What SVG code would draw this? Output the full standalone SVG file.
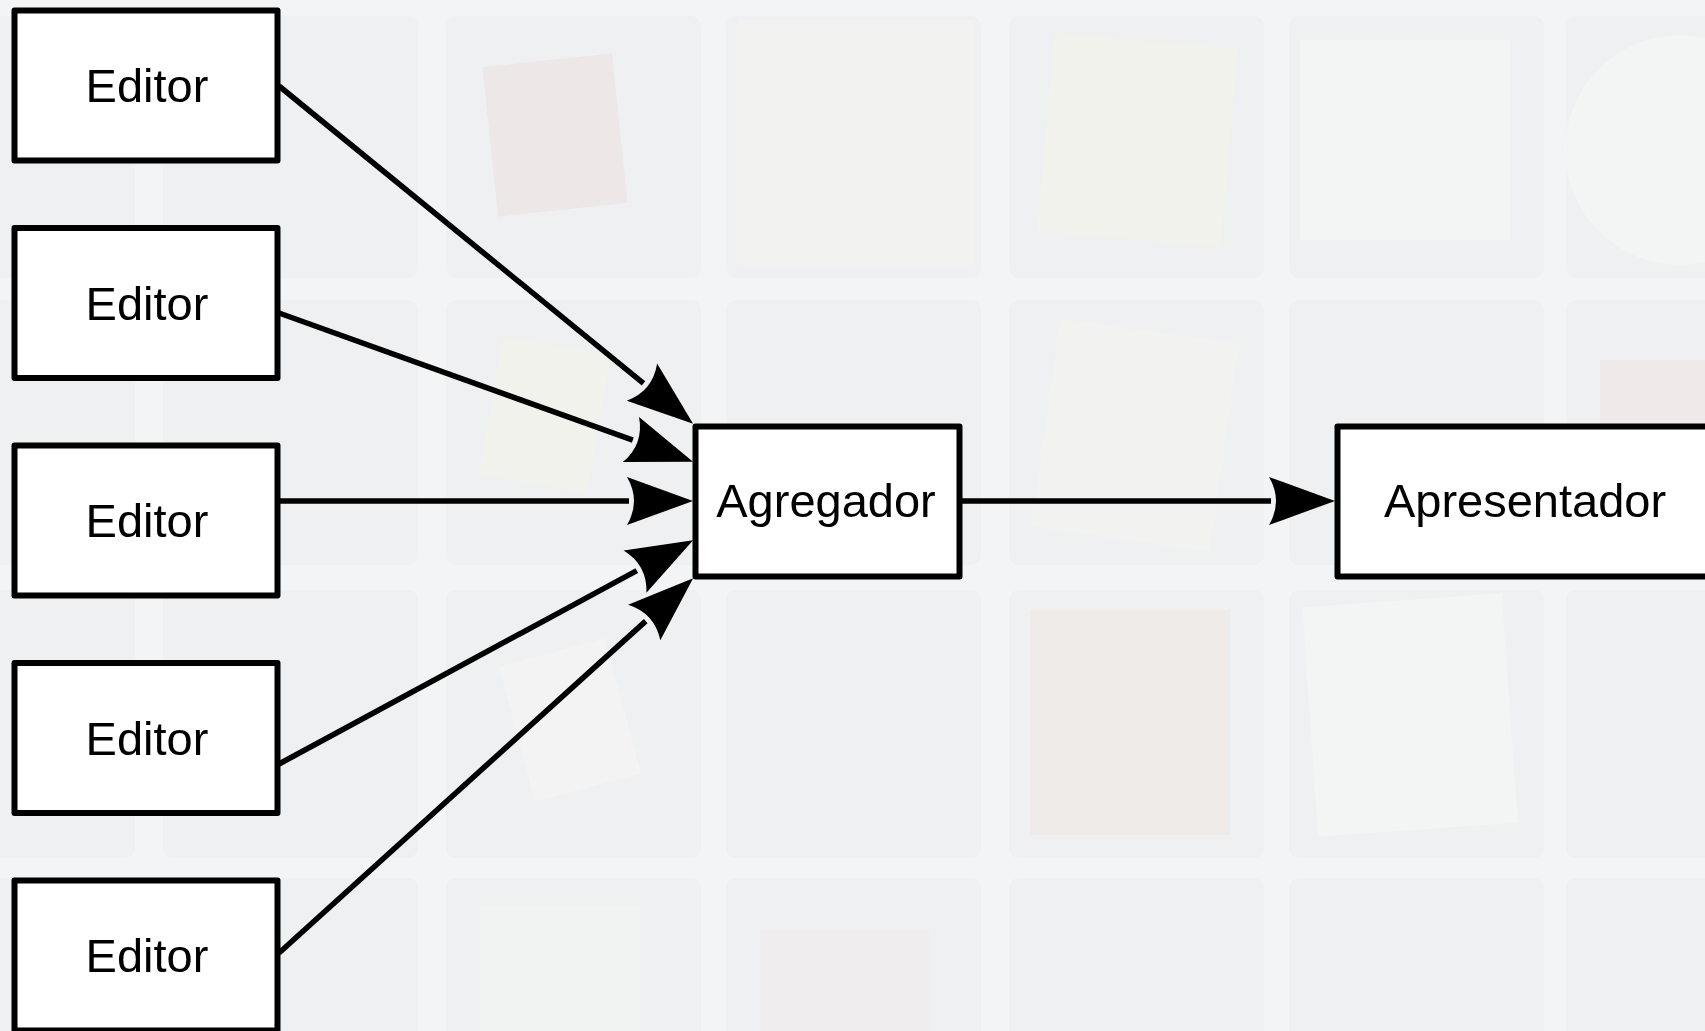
<svg xmlns="http://www.w3.org/2000/svg" width="1705" height="1031" viewBox="0 0 1705 1031">
  <defs>
    <style>
      .node rect { fill: #ffffff; stroke: #000000; stroke-width: 6; stroke-linejoin: round; }
      .node text { font-family: "Liberation Sans", Arial, sans-serif; font-size: 47px; fill: #000000; text-anchor: middle; }
      .edge { fill: none; stroke: #000000; stroke-width: 5.5; }
      .tile { fill: #eef0f1; }
    </style>
    <!-- concave-backed arrowhead; origin is where the line stops, tip 64px ahead -->
    <marker id="arrow" markerUnits="userSpaceOnUse" viewBox="-10 -30 80 60" markerWidth="80" markerHeight="60" refX="0" refY="0" orient="auto" overflow="visible">
      <path d="M64,0 L-2,-24 Q12,0 -2,24 Z" fill="#000000"/>
    </marker>
  </defs>

  <!-- faded backdrop -->
  <rect x="0" y="0" width="1705" height="1031" fill="#f3f4f5"/>
  <g id="backdrop">
    <rect class="tile" x="-120" y="16" width="255" height="262" rx="10"/>
    <rect class="tile" x="163" y="16" width="255" height="262" rx="10"/>
    <rect class="tile" x="446" y="16" width="255" height="262" rx="10"/>
    <rect class="tile" x="726" y="16" width="255" height="262" rx="10"/>
    <rect class="tile" x="1009" y="16" width="255" height="262" rx="10"/>
    <rect class="tile" x="1289" y="16" width="255" height="262" rx="10"/>
    <rect class="tile" x="1566" y="16" width="255" height="262" rx="10"/>

    <rect class="tile" x="-120" y="300" width="255" height="265" rx="10"/>
    <rect class="tile" x="163" y="300" width="255" height="265" rx="10"/>
    <rect class="tile" x="446" y="300" width="255" height="265" rx="10"/>
    <rect class="tile" x="726" y="300" width="255" height="265" rx="10"/>
    <rect class="tile" x="1009" y="300" width="255" height="265" rx="10"/>
    <rect class="tile" x="1289" y="300" width="255" height="265" rx="10"/>
    <rect class="tile" x="1566" y="300" width="255" height="265" rx="10"/>

    <rect class="tile" x="-120" y="590" width="255" height="268" rx="10"/>
    <rect class="tile" x="163" y="590" width="255" height="268" rx="10"/>
    <rect class="tile" x="446" y="590" width="255" height="268" rx="10"/>
    <rect class="tile" x="726" y="590" width="255" height="268" rx="10"/>
    <rect class="tile" x="1009" y="590" width="255" height="268" rx="10"/>
    <rect class="tile" x="1289" y="590" width="255" height="268" rx="10"/>
    <rect class="tile" x="1566" y="590" width="255" height="268" rx="10"/>

    <rect class="tile" x="-120" y="878" width="255" height="170" rx="10"/>
    <rect class="tile" x="163" y="878" width="255" height="170" rx="10"/>
    <rect class="tile" x="446" y="878" width="255" height="170" rx="10"/>
    <rect class="tile" x="726" y="878" width="255" height="170" rx="10"/>
    <rect class="tile" x="1009" y="878" width="255" height="170" rx="10"/>
    <rect class="tile" x="1289" y="878" width="255" height="170" rx="10"/>
    <rect class="tile" x="1566" y="878" width="255" height="170" rx="10"/>

    <!-- pale objects inside the tiles -->
    <g opacity="0.4">
      <rect x="490" y="60" width="130" height="150" fill="#ead9d9" transform="rotate(-6 555 135)"/>
      <rect x="738" y="20" width="235" height="245" fill="#f7f6f0"/>
      <rect x="1045" y="40" width="185" height="200" fill="#f6f4e4" transform="rotate(5 1137 140)"/>
      <rect x="1300" y="40" width="210" height="200" fill="#fafafa"/>
      <circle cx="1680" cy="150" r="115" fill="#fafafa"/>
      <rect x="490" y="345" width="110" height="140" fill="#f8f6e6" transform="rotate(10 545 415)"/>
      <rect x="1045" y="330" width="180" height="210" fill="#f8f7f2" transform="rotate(8 1135 435)"/>
      <rect x="1600" y="360" width="110" height="160" fill="#efe2df"/>
      <rect x="515" y="650" width="110" height="140" fill="#f8f8f6" transform="rotate(-15 570 720)"/>
      <rect x="1030" y="610" width="200" height="225" fill="#f1e3dc"/>
      <rect x="1310" y="600" width="200" height="230" fill="#fbfbfa" transform="rotate(-4 1410 715)"/>
      <rect x="760" y="930" width="170" height="101" fill="#f0e8e8"/>
      <rect x="480" y="905" width="160" height="126" fill="#f5f5f5"/>
    </g>
  </g>

  <!-- connectors -->
  <g id="connectors">
    <line id="e1" class="edge" x1="279" y1="86" x2="643.5" y2="383.4" marker-end="url(#arrow)"/>
    <line id="e2" class="edge" x1="279" y1="313" x2="632.8" y2="440.2" marker-end="url(#arrow)"/>
    <line id="e3" class="edge" x1="279" y1="501" x2="629" y2="501" marker-end="url(#arrow)"/>
    <line id="e4" class="edge" x1="279" y1="764" x2="636.8" y2="570.6" marker-end="url(#arrow)"/>
    <line id="e5" class="edge" x1="279" y1="953" x2="645.7" y2="621.1" marker-end="url(#arrow)"/>
    <line id="e6" class="edge" x1="961" y1="501" x2="1271" y2="501" marker-end="url(#arrow)"/>
  </g>

  <!-- nodes -->
  <g id="editor1" class="node">
    <rect x="14.5" y="10.5" width="263" height="150"/>
    <text x="147" y="102">Editor</text>
  </g>
  <g id="editor2" class="node">
    <rect x="14.5" y="228" width="263" height="150"/>
    <text x="147" y="319.5">Editor</text>
  </g>
  <g id="editor3" class="node">
    <rect x="14.5" y="445.5" width="263" height="150"/>
    <text x="147" y="537">Editor</text>
  </g>
  <g id="editor4" class="node">
    <rect x="14.5" y="663" width="263" height="150"/>
    <text x="147" y="754.5">Editor</text>
  </g>
  <g id="editor5" class="node">
    <rect x="14.5" y="880.5" width="263" height="150"/>
    <text x="147" y="972">Editor</text>
  </g>
  <g id="agregador" class="node">
    <rect x="695.5" y="426.5" width="264" height="150"/>
    <text x="826" y="517">Agregador</text>
  </g>
  <g id="apresentador" class="node">
    <rect x="1337.5" y="426.5" width="376" height="150"/>
    <text x="1525" y="517">Apresentador</text>
  </g>
</svg>
